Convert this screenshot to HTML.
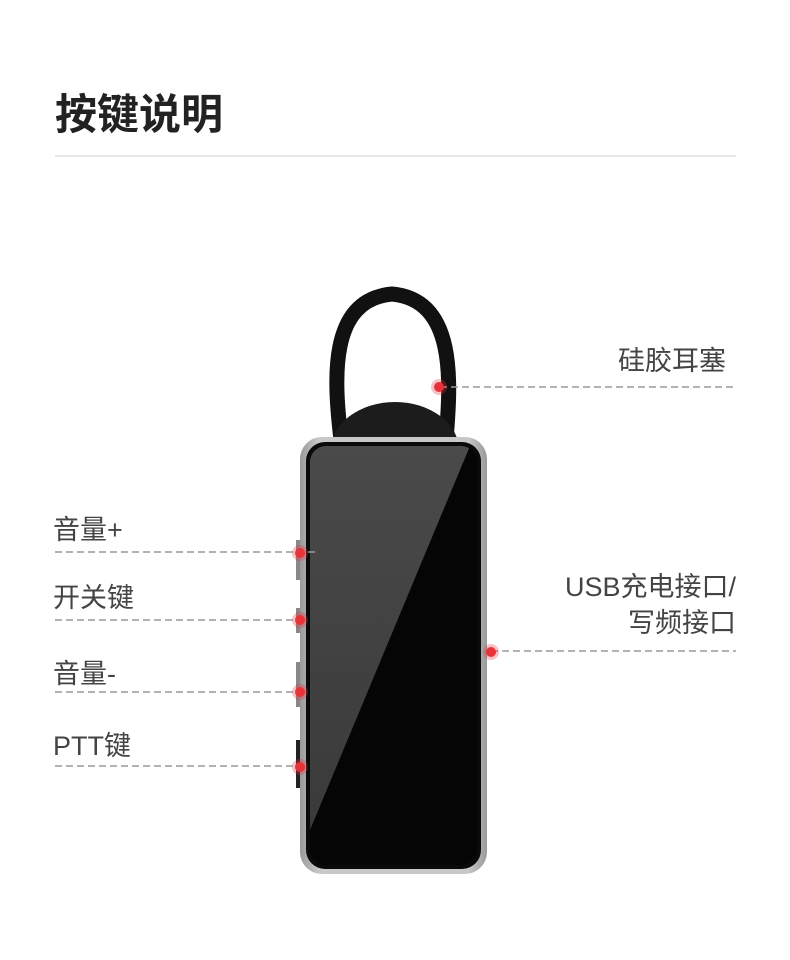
<!DOCTYPE html>
<html><head><meta charset="utf-8"><style>
body{margin:0;background:#fff;}
.t{position:absolute;font-family:"Liberation Sans","Noto Sans CJK SC",sans-serif;color:#444;font-size:27px;white-space:nowrap;}
</style></head><body>
<div style="position:relative;width:790px;height:960px;overflow:hidden;">
<div class="t" style="left:55px;top:81px;font-size:42px;font-weight:bold;color:#222;">按键说明</div>
<div style="position:absolute;left:55px;top:155px;width:681px;height:2px;background:#e8e8e8;"></div>
<svg width="790" height="960" style="position:absolute;left:0;top:0">
<defs>
<linearGradient id="sil" x1="0" x2="1"><stop offset="0" stop-color="#9a9a9a"/><stop offset="0.1" stop-color="#c8c8c8"/><stop offset="0.9" stop-color="#c8c8c8"/><stop offset="1" stop-color="#9a9a9a"/></linearGradient>
<linearGradient id="scr" x1="0" y1="0" x2="0" y2="1"><stop offset="0" stop-color="#4a4a4a"/><stop offset="1" stop-color="#3a3a3a"/></linearGradient>
<clipPath id="cp"><rect x="310" y="446" width="167" height="419" rx="16"/></clipPath>
</defs>
<path d="M341 440 C334 380 328 300 392 294 C456 300 451 380 446 440" fill="none" stroke="#111" stroke-width="15"/>
<ellipse cx="395" cy="450" rx="64" ry="48" fill="#1c1c1c"/>
<rect x="296" y="540" width="6" height="40" fill="#888"/>
<rect x="296" y="608" width="6" height="25" fill="#888"/>
<rect x="296" y="662" width="6" height="45" fill="#888"/>
<rect x="296" y="740" width="6" height="48" fill="#222"/>
<rect x="300" y="437" width="187" height="437" rx="22" fill="url(#sil)"/>
<rect x="306" y="442" width="175" height="427" rx="19" fill="#0a0a0a"/>
<g clip-path="url(#cp)">
<rect x="310" y="446" width="167" height="419" fill="#050505"/>
<polygon points="310,446 470,446 310,830" fill="url(#scr)"/>
</g>
<g stroke="#999" stroke-width="1.5" stroke-dasharray="7,4" fill="none">
<line x1="440" y1="387" x2="736" y2="387"/>
<line x1="55" y1="552" x2="318" y2="552"/>
<line x1="55" y1="620" x2="300" y2="620"/>
<line x1="55" y1="692" x2="300" y2="692"/>
<line x1="55" y1="766" x2="300" y2="766"/>
<line x1="491" y1="651" x2="736" y2="651"/>
</g>
<g fill="#e8333a">
<circle cx="439" cy="387" r="5" /><circle cx="300" cy="553" r="5"/><circle cx="300" cy="620" r="5"/><circle cx="300" cy="692" r="5"/><circle cx="300" cy="767" r="5"/><circle cx="491" cy="652" r="5"/>
</g>
<g fill="#e8333a" opacity="0.3">
<circle cx="439" cy="387" r="8"/><circle cx="300" cy="553" r="8"/><circle cx="300" cy="620" r="8"/><circle cx="300" cy="692" r="8"/><circle cx="300" cy="767" r="8"/><circle cx="491" cy="652" r="8"/>
</g>
</svg>
<div class="t" style="right:64px;top:339px;">硅胶耳塞</div>
<div class="t" style="left:53px;top:508px;">音量+</div>
<div class="t" style="left:53px;top:576px;">开关键</div>
<div class="t" style="left:53px;top:652px;">音量-</div>
<div class="t" style="left:53px;top:724px;">PTT键</div>
<div class="t" style="right:54px;top:569px;text-align:right;line-height:36px;">USB充电接口/<br>写频接口</div>
</div>
</body></html>
